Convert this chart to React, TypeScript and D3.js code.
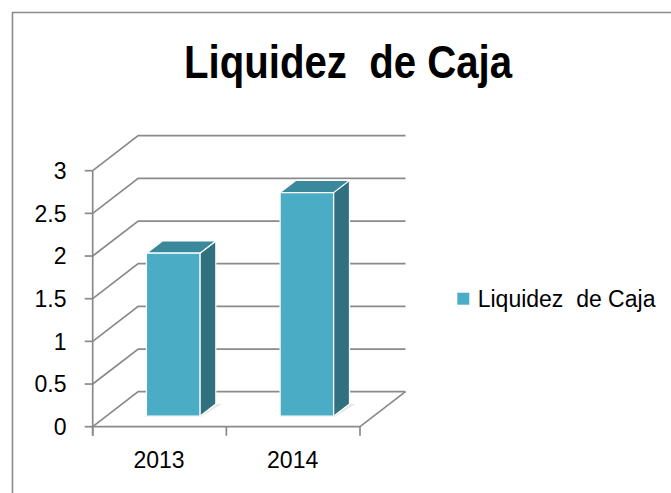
import React from "react";
import * as d3 from "d3";

const title = "Liquidez  de Caja";
const categories = ["2013", "2014"];
const seriesName = "Liquidez  de Caja";
const values = [1.91, 2.62];
const yTicks = [0, 0.5, 1, 1.5, 2, 2.5, 3];
const yTickLabels = ["0", "0.5", "1", "1.5", "2", "2.5", "3"];

const W = 671;
const H = 493;
const DX = 45.5;
const DY = -35;
const F_FRONT = 0.3;
const F_BACK = 0.65;
const FONT = "'Liberation Sans', Arial, sans-serif";
const GRID = "#8a8a8a";

export default function App() {
  const x = d3.scaleBand<string>().domain(categories).range([92.7, 360]).padding(0);
  const y = d3.scaleLinear().domain([0, 3]).range([426.7, 170.7]);
  const P = (px: number, py: number, f: number): [number, number] => [px + f * DX, py + f * DY];
  const poly = (pts: [number, number][]) => pts.map((p) => p.join(",")).join(" ");
  const y0 = y(0);
  const [xMin, xMax] = x.range();
  const barW = x.bandwidth() * 0.4;

  return (
    <svg width={W} height={H} style={{ position: "absolute", left: 0, top: 0, background: "#fff" }}>
      {/* border */}
      <path d={`M12.5,${H} L12.5,12.5 L${W},12.5`} fill="none" stroke="#8c8c8c" strokeWidth={1.6} />
      {/* title */}
      <text x={348} y={78.3} textAnchor="middle" fontFamily={"'Liberation Sans Narrow', 'Arial Narrow', " + FONT}
        fontWeight="bold" fontSize={46} textLength={328} lengthAdjust="spacingAndGlyphs" fill="#000"
        style={{ whiteSpace: "pre" }}>
        {title}
      </text>
      {/* gridlines: left wall diagonal + back wall horizontal */}
      {yTicks.map((t, i) => {
        const a = P(xMin, y(t), 0);
        const b = P(xMin, y(t), 1);
        const c = P(xMax, y(t), 1);
        return <polyline key={i} points={poly([a, b, c])} fill="none" stroke={GRID} strokeWidth={1.7} />;
      })}
      {/* floor right edge */}
      <polyline points={poly([P(xMax, y0, 0), P(xMax, y0, 1)])} fill="none" stroke={GRID} strokeWidth={1.7} />
      {/* y axis */}
      <line x1={xMin} x2={xMin} y1={y(3)} y2={y0 + 9} stroke={GRID} strokeWidth={1.7} />
      {yTicks.map((t, i) => (
        <g key={i}>
          <line x1={xMin - 8} x2={xMin} y1={y(t)} y2={y(t)} stroke={GRID} strokeWidth={1.7} />
          <text x={66.5} y={y(t) + 8.3} textAnchor="end" fontFamily={FONT} fontSize={23} fill="#000">
            {yTickLabels[i]}
          </text>
        </g>
      ))}
      {/* x axis */}
      <line x1={xMin} x2={xMax} y1={y0} y2={y0} stroke={GRID} strokeWidth={1.7} />
      {[...categories.map((c) => x(c) as number), xMax].map((px, i) => (
        <line key={i} x1={px} x2={px} y1={y0} y2={y0 + 9} stroke={GRID} strokeWidth={1.7} />
      ))}
      {categories.map((c) => (
        <text key={c} x={(x(c) as number) + x.bandwidth() / 2 - 0.5} y={468.3} textAnchor="middle"
          fontFamily={FONT} fontSize={23} fill="#000">
          {c}
        </text>
      ))}
      {/* bars */}
      {categories.map((c, i) => {
        const cx = (x(c) as number) + x.bandwidth() / 2;
        const xl = cx - barW / 2;
        const xr = cx + barW / 2;
        const yv = y(values[i]);
        const front = [P(xl, yv, F_FRONT), P(xr, yv, F_FRONT), P(xr, y0, F_FRONT), P(xl, y0, F_FRONT)];
        const top = [P(xl, yv, F_FRONT), P(xr, yv, F_FRONT), P(xr, yv, F_BACK), P(xl, yv, F_BACK)];
        const side = [P(xr, yv, F_FRONT), P(xr, y0, F_FRONT), P(xr, y0, F_BACK), P(xr, yv, F_BACK)];
        const shadow = [P(xl - 2, y0, F_FRONT - 0.02), P(xr + 2, y0, F_FRONT - 0.02), P(xr + 6, y0, F_BACK), P(xr, y0, F_BACK)];
        return (
          <g key={c}>
            <polygon points={poly(shadow)} fill="#d9d9d9" opacity={0.6} />
            <polygon points={poly(side)} fill="#31707F" stroke="#ffffff" strokeWidth={1.2} strokeLinejoin="round" />
            <polygon points={poly(top)} fill="#3A889C" stroke="#ffffff" strokeWidth={1.2} strokeLinejoin="round" />
            <polygon points={poly(front)} fill="#4BACC6" stroke="#ffffff" strokeWidth={1.2} strokeLinejoin="round" />
          </g>
        );
      })}
      {/* legend */}
      <rect x={457.3} y={292.7} width={12} height={12} fill="#4BACC6" />
      <text x={477.7} y={307.3} fontFamily={FONT} fontSize={23} fill="#000" style={{ whiteSpace: "pre" }}>
        {seriesName}
      </text>
    </svg>
  );
}
